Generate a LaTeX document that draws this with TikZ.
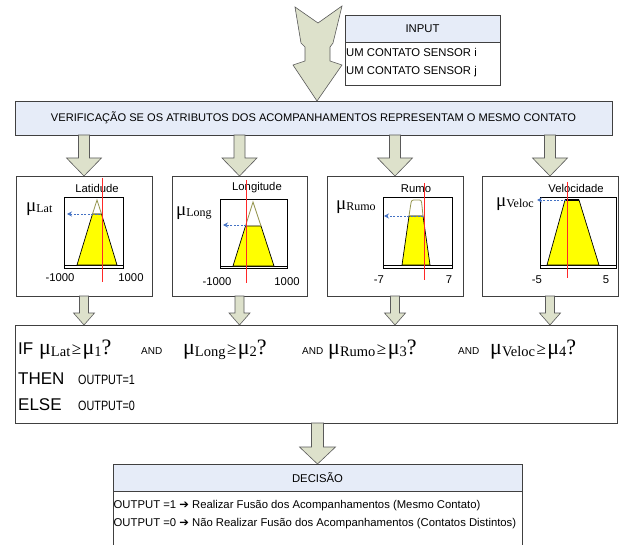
\documentclass[tikz,border=0pt]{standalone}
\usepackage{fontspec}
\setmainfont{Liberation Sans}
\newfontfamily\tnr{Liberation Serif}
\newfontfamily\djv{DejaVu Sans}
\newfontfamily\narrowsf[FakeStretch=0.8]{Liberation Sans}
\usetikzlibrary{calc,arrows.meta}
\definecolor{arrowfill}{RGB}{221,225,203}
\definecolor{arrowline}{RGB}{90,90,90}
\definecolor{headblue}{RGB}{230,236,248}
\definecolor{boxline}{RGB}{64,64,64}
\definecolor{fzolive}{RGB}{150,150,80}
\definecolor{fzred}{RGB}{255,40,40}
\definecolor{fzblue}{RGB}{68,114,196}
\definecolor{fzyellow}{RGB}{255,255,0}
\tikzset{
  box/.style={draw=boxline, line width=0.8pt, fill=white, inner sep=0pt, outer sep=0pt},
  txt/.style={inner sep=0pt, font=\fontsize{11.3}{13}\selectfont},
  barrow/.style={draw=arrowline, fill=arrowfill, line width=0.6pt, line join=miter},
  frame/.style={draw=black, line width=0.8pt},
  trap/.style={draw=black, fill=fzyellow, line width=0.7pt},
  peak/.style={draw=fzolive, line width=0.8pt},
  redline/.style={draw=fzred, line width=0.9pt},
  bluearrow/.style={draw=fzblue, line width=0.8pt, dashed, dash pattern=on 2pt off 1.5pt, -{Stealth[length=5pt,width=5pt]}},
  bigtxt/.style={anchor=base west, inner sep=0pt, font=\fontsize{17}{19}\selectfont},
  andtxt/.style={anchor=base west, inner sep=0pt, font=\fontsize{10}{12}\selectfont},
  outtxt/.style={anchor=base west, inner sep=0pt, font=\narrowsf\fontsize{13.5}{15}\selectfont},
  condtxt/.style={anchor=base west, inner sep=0pt},
}
\newcommand{\blockarrow}[5]{\draw[barrow] let \p1=(#1), \p2=(#2) in
  (\x2-#3pt,\y1) -- (\x2-#3pt,\y2+#5pt) -- (\x2-#4pt,\y2+#5pt) -- (\x2,\y2) --
  (\x2+#4pt,\y2+#5pt) -- (\x2+#3pt,\y2+#5pt) -- (\x2+#3pt,\y1) -- cycle;}
\newcommand{\mulab}[1]{{\tnr\fontsize{19}{19}\selectfont μ\fontsize{12}{12}\selectfont\raisebox{-1.5pt}{#1}}}
\newcommand{\mucond}[2]{{\tnr\fontsize{22}{22}\selectfont μ{\fontsize{14.5}{14.5}\selectfont\raisebox{-2pt}{#1}}\hspace{1.5pt}{\fontsize{17}{17}\selectfont ≥}\hspace{1.5pt}μ{\fontsize{14.5}{14.5}\selectfont\raisebox{-2pt}{#2}}?}}
\begin{document}
\begin{tikzpicture}[x=1pt,y=-1pt]
\useasboundingbox[fill=white] (0,0) rectangle (623,545);

% input box
\node[box, fill=headblue, minimum width=155, minimum height=27] (inhead) at (422.5,28.5) {\fontsize{11.3}{13}\selectfont INPUT};
\node[box, minimum width=155, minimum height=43] (inbody) at (422.5,63.5) {};
\node[txt, anchor=west] (in1) at (346,52) {UM CONTATO SENSOR i};
\node[txt, anchor=west] (in2) at (346,72) {UM CONTATO SENSOR j};

% verification box
\node[box, fill=headblue, minimum width=597, minimum height=34] (verif) at (313.5,118)
  {\fontsize{11.1}{13}\selectfont VERIFICAÇÃO SE OS ATRIBUTOS DOS ACOMPANHAMENTOS REPRESENTAM O MESMO CONTATO};

% big input arrow
\coordinate (tip) at (317,101);
\draw[barrow] (295,7) -- (318,23) -- (342,6) -- (333,43) -- (330,47) -- (330,61) -- (342,65)
  -- (tip) -- (293,65) -- (305,61) -- (305,47) -- (301,43) -- cycle;

% fuzzy boxes
\node[box, minimum width=136, minimum height=120] (fz1) at (84,236) {};
\node[box, minimum width=135, minimum height=120] (fz2) at (239.5,236) {};
\node[box, minimum width=136, minimum height=120] (fz3) at (395,236) {};
\node[box, minimum width=136, minimum height=120] (fz4) at (550,236) {};

% IF box
\node[box, minimum width=602, minimum height=98] (ifbox) at (316,374) {};

% decision box
\node[box, fill=headblue, minimum width=409, minimum height=27] (dechead) at (317.5,477.5) {\fontsize{11.3}{13}\selectfont DECISÃO};
\node[box, minimum width=409, minimum height=58] (decbody) at (317.5,520) {};
\node[txt, anchor=west] (dec1) at (113.5,506) {OUTPUT =1 {\djv\fontsize{11.5}{12}\selectfont ➔} Realizar Fusão dos Acompanhamentos (Mesmo Contato)};
\node[txt, anchor=west] (dec2) at (113.5,524) {OUTPUT =0 {\djv\fontsize{11.5}{12}\selectfont ➔} Não Realizar Fusão dos Acompanhamentos (Contatos Distintos)};

% block arrows
\foreach \f in {fz1,fz2,fz3,fz4}{
  \blockarrow{verif.south -| \f.north}{\f.north}{5.5}{17.5}{18}
  \blockarrow{\f.south}{ifbox.north -| \f.south}{4.5}{10.5}{12}
}
\blockarrow{ifbox.south -| dechead.north}{dechead.north}{6}{18}{17}

% ---- plot 1: Latitude
\node[txt] (t1) at (97,188) {Latidude};
\draw[frame] (64,197) rectangle (123,268);
\draw[frame] (64,265) -- (123,265);
\draw[trap] (77,265) -- (92.5,214) -- (101.5,214) -- (117,265) -- cycle;
\draw[peak] (92.5,214) -- (97,200) -- (101.5,214);
\draw[bluearrow] (100,214) -- (67,214);
\draw[redline] (102,178) -- (102,282);
\node[txt] (a1l) at (60,278) {-1000};
\node[txt] (a1r) at (131,278) {1000};
\node[anchor=west, inner sep=0pt] (mu1) at (26,209) {\mulab{Lat}};

% ---- plot 2: Longitude
\node[txt] (t2) at (257,188) {Longitude};
\draw[frame] (220,199) rectangle (287,268);
\draw[frame] (220,266) -- (287,266);
\draw[trap] (233,266) -- (245.5,226) -- (261,226) -- (274,266) -- cycle;
\draw[peak] (245.5,226) -- (253,202) -- (261,226);
\draw[bluearrow] (246,225) -- (223,225);
\draw[redline] (246,180) -- (246,283);
\node[txt] (a2l) at (217,282) {-1000};
\node[txt] (a2r) at (287,282) {1000};
\node[anchor=west, inner sep=0pt] (mu2) at (176,213) {\mulab{Long}};

% ---- plot 3: Rumo
\node[txt] (t3) at (416,189) {Rumo};
\draw[frame] (383,197) rectangle (452,268);
\draw[frame] (383,265) -- (452,265);
\draw[trap] (402,265) -- (409,216) -- (423,216) -- (430,265) -- cycle;
\draw[peak] (409,216) -- (410.5,206) to[out=80,in=180] (413.5,200) -- (419.5,200) to[out=0,in=100] (422,206) -- (423,216);
\draw[bluearrow] (423,216) -- (384,216);
\draw[redline] (424,183) -- (424,280);
\node[txt] (a3l) at (379,280) {-7};
\node[txt] (a3r) at (449,280) {7};
\node[anchor=west, inner sep=0pt] (mu3) at (336,207) {\mulab{Rumo}};

% ---- plot 4: Velocidade
\node[txt] (t4) at (576,188) {Velocidade};
\draw[frame] (540,197) rectangle (616,268);
\draw[frame] (540,265) -- (616,265);
\draw[trap] (547,265) -- (565,200) -- (579,200) -- (599,265) -- cycle;
\draw[black, line width=1.2pt] (565,200) -- (579,200);
\draw[bluearrow] (566,200) -- (537,200);
\draw[redline] (567,182) -- (567,278);
\node[txt] (a4l) at (537,280) {-5};
\node[txt] (a4r) at (606,280) {5};
\node[anchor=west, inner sep=0pt] (mu4) at (496,204) {\mulab{Veloc}};

% ---- IF box text
\node[bigtxt] (if) at (18,354) {IF};
\node[condtxt] (c1) at (39,354) {\mucond{Lat}{1}};
\node[andtxt] (and1) at (141,354) {AND};
\node[condtxt] (c2) at (183,354) {\mucond{Long}{2}};
\node[andtxt] (and2) at (302,354) {AND};
\node[condtxt] (c3) at (328,354) {\mucond{Rumo}{3}};
\node[andtxt] (and3) at (458,354) {AND};
\node[condtxt] (c4) at (490,354) {\mucond{Veloc}{4}};
\node[bigtxt] (then) at (18,384) {THEN};
\node[outtxt] (o1) at (78,384) {OUTPUT=1};
\node[bigtxt] (else) at (18,410) {ELSE};
\node[outtxt] (o0) at (78,410) {OUTPUT=0};
\end{tikzpicture}
\end{document}
